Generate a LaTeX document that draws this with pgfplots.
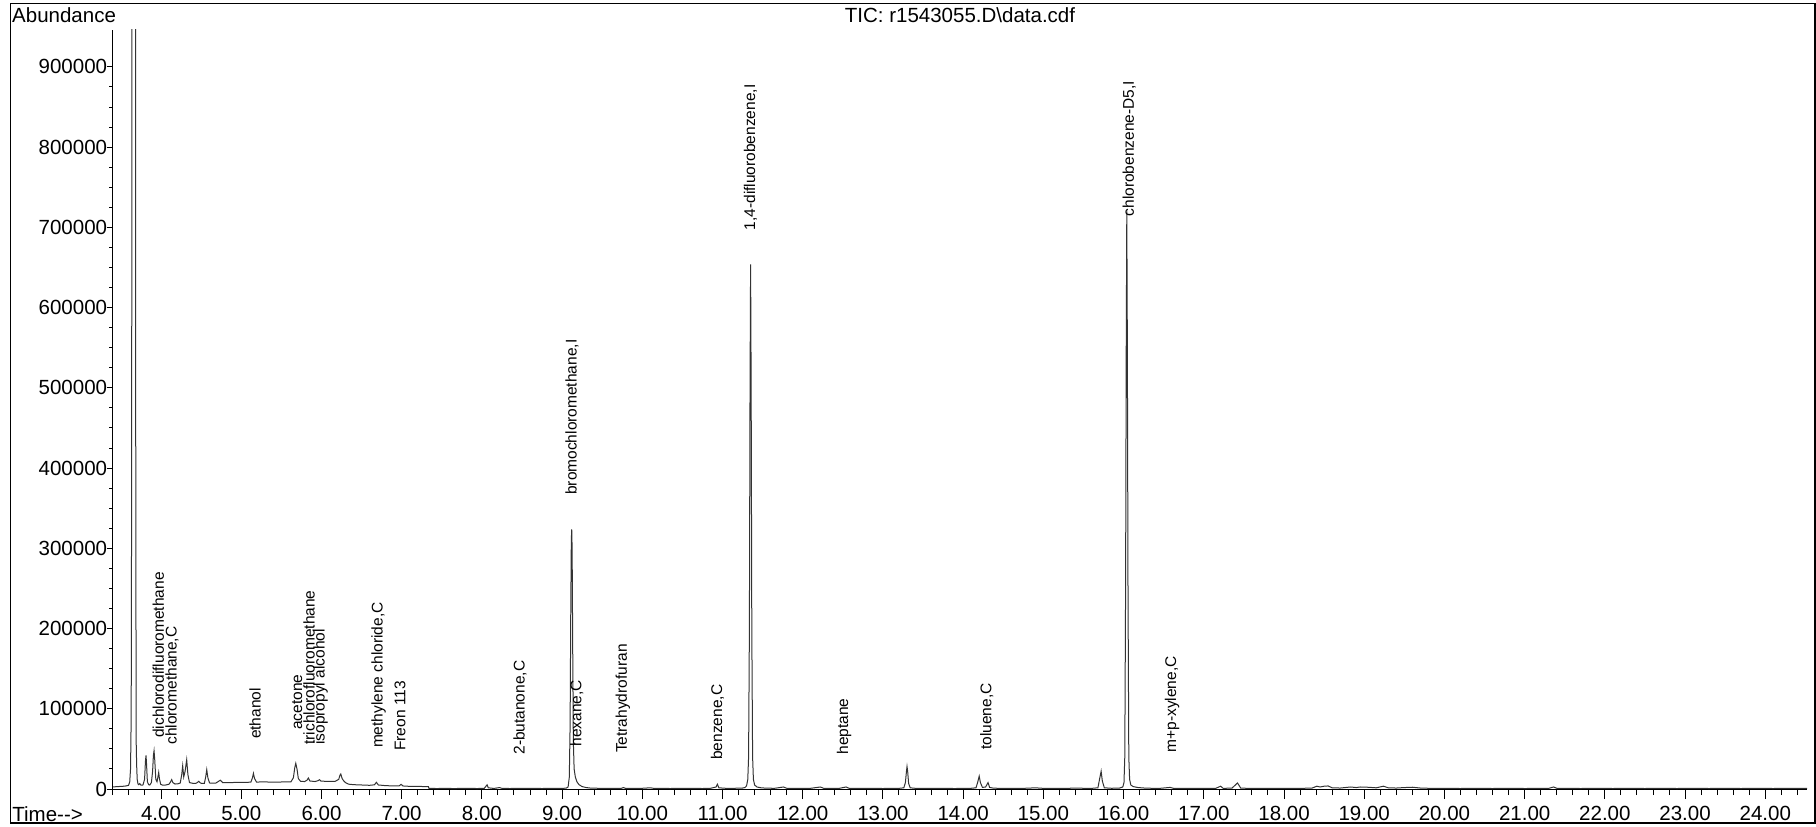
\documentclass[border=0pt]{standalone}
\usepackage{pgfplots}
\pgfplotsset{compat=1.18}
\usepackage{fontspec}
\setmainfont{Liberation Sans}
\newcommand{\tickfont}{\fontsize{10.25}{12}\selectfont}
\newcommand{\peakfont}{\fontsize{7.75}{9}\selectfont}

% total ion chromatogram: retention time (min) vs abundance
\pgfplotstableread{
t v
3.400 2500
3.450 3000
3.500 3200
3.550 3600
3.595 4500
3.610 9000
3.620 25000
3.628 90000
3.634 400000
3.639 1300000
3.680 1300000
3.685 400000
3.690 60000
3.696 30000
3.703 12000
3.712 6500
3.722 5500
3.735 6800
3.750 4800
3.775 5000
3.795 12000
3.806 35000
3.813 42000
3.820 30000
3.830 9000
3.845 5500
3.860 5000
3.880 8000
3.895 22000
3.905 42000
3.913 47700
3.922 36000
3.935 12000
3.950 9000
3.963 16000
3.971 20700
3.980 13000
3.995 6000
4.020 4800
4.060 5000
4.100 6000
4.120 9000
4.133 11600
4.148 8000
4.175 6200
4.210 6500
4.240 7500
4.258 18000
4.270 29000
4.283 15000
4.300 22000
4.320 36500
4.335 18000
4.355 8000
4.400 7000
4.440 7200
4.470 9500
4.495 7200
4.540 7000
4.557 15000
4.570 24000
4.584 14000
4.605 7500
4.680 7200
4.740 11000
4.770 7800
4.850 8000
4.950 8200
5.050 8300
5.120 8500
5.140 14000
5.152 19500
5.166 13000
5.190 8700
5.300 8800
5.420 8500
5.520 8800
5.620 9000
5.650 14000
5.668 27000
5.680 32000
5.695 25000
5.712 13000
5.740 9500
5.790 9300
5.820 11000
5.837 13700
5.855 10000
5.920 9300
5.960 10500
5.975 11600
5.995 9800
6.080 9500
6.170 9500
6.215 12000
6.232 17500
6.241 18700
6.258 13000
6.275 10500
6.300 8000
6.340 6000
6.400 5400
6.500 5000
6.600 4600
6.660 5200
6.685 8300
6.710 5000
6.800 4200
6.900 3800
6.970 4000
6.993 5800
7.015 3800
7.100 3300
7.200 3200
7.333 3000
7.340 700
7.450 600
7.550 900
7.650 500
7.750 800
7.850 700
7.950 600
8.030 900
8.055 4000
8.065 5200
8.080 1500
8.150 700
8.220 1800
8.250 800
8.350 600
8.450 900
8.550 700
8.650 800
8.750 600
8.850 900
8.950 700
9.050 1000
9.075 2500
9.090 15000
9.100 80000
9.108 220000
9.115 310000
9.120 323700
9.125 300000
9.132 180000
9.140 60000
9.150 25000
9.165 15000
9.185 9000
9.210 5500
9.250 3000
9.300 1800
9.350 1200
9.450 900
9.550 800
9.650 700
9.740 900
9.765 1800
9.790 800
9.900 700
10.000 900
10.100 1500
10.150 700
10.250 800
10.350 600
10.450 900
10.550 700
10.650 800
10.750 600
10.850 900
10.920 2500
10.936 6000
10.955 1500
11.050 800
11.150 900
11.250 1200
11.280 1800
11.300 4000
11.315 12000
11.325 40000
11.335 200000
11.343 500000
11.350 654000
11.357 500000
11.365 200000
11.375 40000
11.385 12000
11.400 5000
11.430 2500
11.480 1500
11.550 1000
11.650 900
11.760 2500
11.800 900
11.900 800
12.000 700
12.100 900
12.220 2500
12.260 900
12.350 800
12.450 700
12.540 2500
12.580 800
12.700 900
12.800 700
12.900 800
13.000 600
13.100 900
13.200 800
13.260 1500
13.280 8000
13.293 22000
13.300 28000
13.308 22000
13.320 7000
13.340 1500
13.400 900
13.500 700
13.600 800
13.700 900
13.800 700
13.900 600
14.000 800
14.100 900
14.160 1500
14.180 8000
14.200 16000
14.215 8000
14.240 2000
14.280 2500
14.310 8000
14.330 2000
14.380 1000
14.500 800
14.600 900
14.700 700
14.800 1000
14.900 1500
15.000 800
15.100 700
15.200 900
15.300 800
15.400 1200
15.500 900
15.600 800
15.680 1500
15.700 12000
15.720 22000
15.735 10000
15.760 1500
15.850 900
15.950 1200
15.990 2500
16.005 8000
16.015 40000
16.025 250000
16.033 550000
16.040 720000
16.047 550000
16.055 250000
16.065 40000
16.075 12000
16.090 5000
16.120 3000
16.180 1800
16.260 1200
16.350 900
16.450 800
16.580 2000
16.620 900
16.750 800
16.850 900
16.950 800
17.050 700
17.150 900
17.210 3500
17.240 900
17.350 1000
17.420 7500
17.460 1200
17.550 800
17.650 700
17.750 900
17.850 800
17.950 700
18.050 900
18.150 800
18.250 900
18.350 1200
18.410 3500
18.450 2500
18.500 3500
18.550 3800
18.600 1500
18.700 1200
18.830 2500
18.900 1800
18.950 2500
19.040 2200
19.150 1500
19.240 3500
19.300 1500
19.400 1200
19.500 1800
19.600 2200
19.700 1200
19.800 900
19.900 800
20.000 700
20.100 800
20.200 600
20.300 900
20.400 700
20.500 800
20.600 600
20.700 900
20.800 700
20.900 800
21.000 600
21.100 700
21.200 900
21.300 800
21.360 2500
21.400 900
21.500 700
21.600 800
21.700 600
21.800 900
21.900 700
22.000 800
22.100 600
22.200 900
22.300 700
22.400 800
22.500 600
22.600 900
22.700 700
22.800 800
22.900 600
23.000 900
23.100 700
23.200 800
23.300 600
23.400 900
23.500 700
23.600 800
23.700 600
23.800 900
23.900 700
24.000 800
24.100 600
24.200 900
24.300 700
24.400 800
24.520 700
}\ticdata

\begin{document}
\begin{tikzpicture}[x=1pt,y=1pt]
\useasboundingbox (0,0) rectangle (908,413);
\draw[line width=0.6pt] (5.25,1.5) rectangle (907.5,411.25);

% time axis and trace
\begin{axis}[
  at={(56.25pt,18.5pt)}, anchor=south west,
  scale only axis, width=847.25pt, height=379.5pt,
  xmin=3.395, xmax=24.52, ymin=0, ymax=946000,
  axis x line*=bottom, axis y line=none,
  xtick={4,5,...,24},
  xticklabels={4.00,5.00,6.00,7.00,8.00,9.00,10.00,11.00,12.00,13.00,14.00,15.00,16.00,17.00,18.00,19.00,20.00,21.00,22.00,23.00,24.00},
  minor xtick={3.4,3.6,...,24.5},
  tick align=outside,
  major tick length=5pt, minor tick length=3pt,
  tick style={black, line width=0.5pt},
  xticklabel style={font=\tickfont, inner sep=0pt, anchor=north, yshift=-3.5pt},
  axis line style={black, line width=0.5pt},
  scaled x ticks=false,
]
\addplot[black!80, line width=0.5pt, no marks] table[x=t, y=v] {\ticdata};

\begin{scope}[every node/.style={rotate=90, anchor=west, inner sep=0pt, font=\peakfont}]
\node at (axis cs:3.966,63500) {dichlorodifluoromethane};
\node at (axis cs:4.137,54800) {chloromethane,C};
\node at (axis cs:5.172,61900) {ethanol};
\node at (axis cs:5.696,73500) {acetone};
\node at (axis cs:5.845,54800) {trichlorofluoromethane};
\node at (axis cs:5.991,54800) {isopropyl alcohol};
\node at (axis cs:6.714,50700) {methylene chloride,C};
\node at (axis cs:6.980,47300) {Freon 113};
\node at (axis cs:8.476,42400) {2-butanone,C};
\node at (axis cs:9.183,52700) {hexane,C};
\node at (axis cs:9.757,44500) {Tetrahydrofuran};
\node at (axis cs:10.936,36100) {benzene,C};
\node at (axis cs:9.125,366300) {bromochloromethane,I};
\node at (axis cs:11.349,696000) {1,4-difluorobenzene,I};
\node at (axis cs:12.516,42400) {heptane};
\node at (axis cs:14.294,48600) {toluene,C};
\node at (axis cs:16.070,713300) {chlorobenzene-D5,I};
\node at (axis cs:16.606,45200) {m+p-xylene,C};
\end{scope}
\end{axis}

% abundance axis
\begin{axis}[
  at={(56.25pt,18.5pt)}, anchor=south west,
  scale only axis, width=847.25pt, height=379.5pt,
  xmin=3.395, xmax=24.52, ymin=0, ymax=946000,
  axis x line=none, axis y line*=left,
  ytick={0,100000,...,900000},
  yticklabels={0,100000,200000,300000,400000,500000,600000,700000,800000,900000},
  minor y tick num=3,
  tick align=outside,
  major tick length=2.5pt, minor tick length=1.5pt,
  tick style={black, line width=0.5pt},
  yticklabel style={font=\tickfont, inner sep=0pt, anchor=east},
  axis line style={black, line width=0.5pt},
  scaled y ticks=false,
]
\end{axis}

\node[anchor=west, inner sep=0pt, font=\tickfont] at (5.9,405.5) {Abundance};
\node[inner sep=0pt, font=\tickfont] at (480,405.5) {TIC: r1543055.D\textbackslash data.cdf};
\node[anchor=west, inner sep=0pt, font=\tickfont] at (6,6) {Time-{}-{}>};
\end{tikzpicture}
\end{document}
